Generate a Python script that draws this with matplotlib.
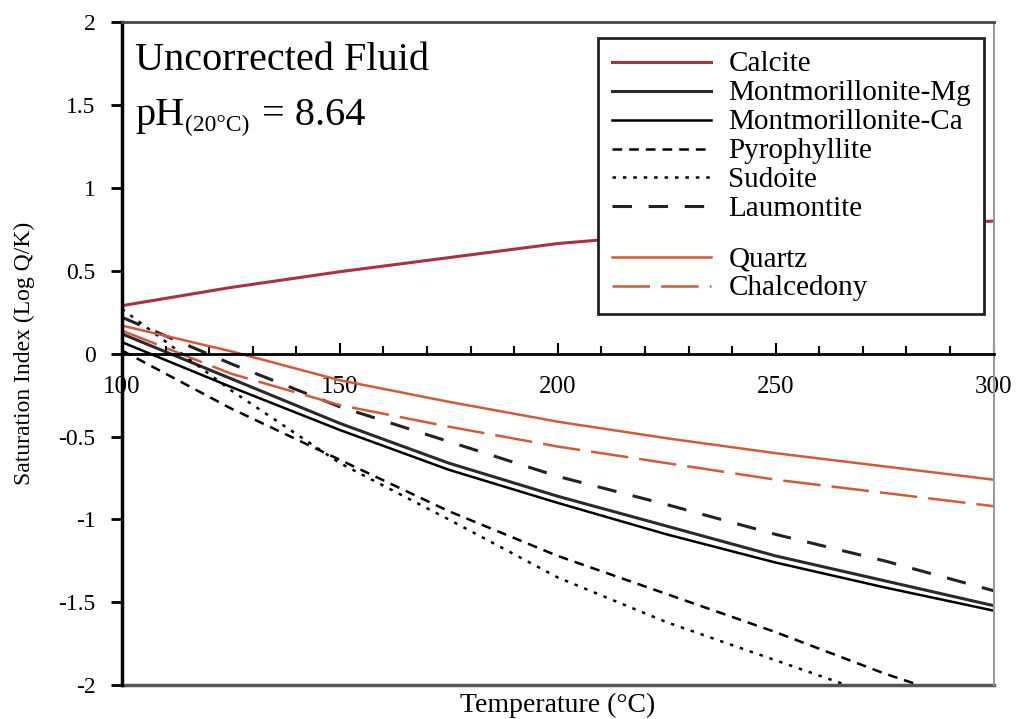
import matplotlib
matplotlib.use('Agg')
import matplotlib.pyplot as plt
from matplotlib.lines import Line2D
from matplotlib.ticker import MultipleLocator, FuncFormatter

# values (every 25 degC)
temps = [100, 125, 150, 175, 200, 225, 250, 275, 300]
calcite = [0.29, 0.40, 0.495, 0.58, 0.665, 0.72, 0.76, 0.785, 0.80]
mont_mg = [0.12, -0.15, -0.42, -0.66, -0.86, -1.04, -1.22, -1.37, -1.52]
mont_ca = [0.07, -0.20, -0.46, -0.70, -0.90, -1.09, -1.26, -1.41, -1.55]
pyrophyllite = [0.02, -0.33, -0.64, -0.95, -1.22, -1.45, -1.68, -1.93, -2.15]
sudoite = [0.27, -0.22, -0.66, -1.00, -1.35, -1.62, -1.85, -2.08, -2.30]
laumontite = [0.22, -0.06, -0.32, -0.53, -0.74, -0.91, -1.09, -1.25, -1.43]
quartz = [0.17, 0.015, -0.16, -0.29, -0.41, -0.51, -0.60, -0.68, -0.76]
chalcedony = [0.14, -0.12, -0.31, -0.44, -0.56, -0.66, -0.76, -0.84, -0.92]

plt.rcParams['font.family'] = 'Liberation Serif'
plt.rcParams['axes.unicode_minus'] = False
plt.rcParams['lines.scale_dashes'] = False

red = '#a8323e'
orange = '#cf5a3c'

fig = plt.figure(figsize=(10.16, 7.19), dpi=100)
ax = fig.add_axes([0.120, 0.047, 0.858, 0.922])

l_cal, = ax.plot(temps, calcite, color=red, lw=2.2)
l_mg, = ax.plot(temps, mont_mg, color='#2a2a2a', lw=2.2)
l_ca, = ax.plot(temps, mont_ca, color='black', lw=1.8)
l_py, = ax.plot(temps, pyrophyllite, color='black', lw=1.8, dashes=(7, 5))
l_su, = ax.plot(temps, sudoite, color='black', lw=1.8, dashes=(2.5, 5))
l_la, = ax.plot(temps, laumontite, color='#222222', lw=2.2, dashes=(14, 12))
l_qz, = ax.plot(temps, quartz, color=orange, lw=1.8)
l_ch, = ax.plot(temps, chalcedony, color=orange, lw=1.8, dashes=(27, 8))

ax.set_xlim(100, 300)
ax.set_ylim(-2, 2)
ax.set_axisbelow(True)

# x axis drawn through zero, frame closed at the bottom
ax.spines['bottom'].set_position(('data', 0))
ax.spines['bottom'].set_linewidth(2)
ax.spines['left'].set_linewidth(2.5)
ax.spines['top'].set_color('#444444')
ax.spines['top'].set_linewidth(2)
ax.spines['right'].set_color('#999999')
ax.spines['right'].set_linewidth(1.5)
ax.plot([0, 1], [0, 0], transform=ax.transAxes, color='#555555', lw=2.5,
        clip_on=False)

ax.xaxis.set_major_locator(MultipleLocator(50))
ax.xaxis.set_minor_locator(MultipleLocator(10))
ax.yaxis.set_major_locator(MultipleLocator(0.5))
ax.yaxis.set_major_formatter(FuncFormatter(lambda v, p: f'{v:g}'))
ax.tick_params(axis='x', which='both', direction='in', pad=16, labelsize=18)
ax.tick_params(axis='x', which='major', length=8, width=1.5)
ax.tick_params(axis='x', which='minor', length=6, width=1.5)
ax.tick_params(axis='y', direction='out', length=8, width=2, pad=11,
               labelsize=17)

ax.set_xlabel('Temperature (°C)', fontsize=20)
ax.xaxis.set_label_coords(0.5, -0.012)
ax.set_ylabel('Saturation Index (Log Q/K)', fontsize=17)
ax.yaxis.set_label_coords(-0.100, 0.5)

fig.text(135 / 1016, 1 - 70 / 719, 'Uncorrected Fluid', fontsize=29,
         va='baseline')
fig.text(135 / 1016, 1 - 125 / 719, 'pH', fontsize=29, va='baseline')
fig.text(185 / 1016, 1 - 131 / 719, '(20°C)', fontsize=17, va='baseline')
fig.text(262 / 1016, 1 - 125 / 719, '= 8.64', fontsize=29, va='baseline')

blank = Line2D([], [], linestyle='none')
handles = [l_cal, l_mg, l_ca, l_py, l_su, l_la, blank, l_qz, l_ch]
labels = ['Calcite', 'Montmorillonite-Mg', 'Montmorillonite-Ca',
          'Pyrophyllite', 'Sudoite', 'Laumontite', ' ', 'Quartz', 'Chalcedony']
leg = ax.legend(handles, labels, loc='upper right',
                bbox_to_anchor=(984 / 1016, 1 - 38 / 719),
                bbox_transform=fig.transFigure, borderaxespad=0,
                fontsize=21, handlelength=3.4, handletextpad=0.6,
                handleheight=0.5, labelspacing=0.1, borderpad=0.45,
                fancybox=False, framealpha=1, edgecolor='#222222')
leg.get_frame().set_linewidth(2)
leg.get_texts()[6].set_fontsize(1)

plt.savefig('out.png', dpi=100)
